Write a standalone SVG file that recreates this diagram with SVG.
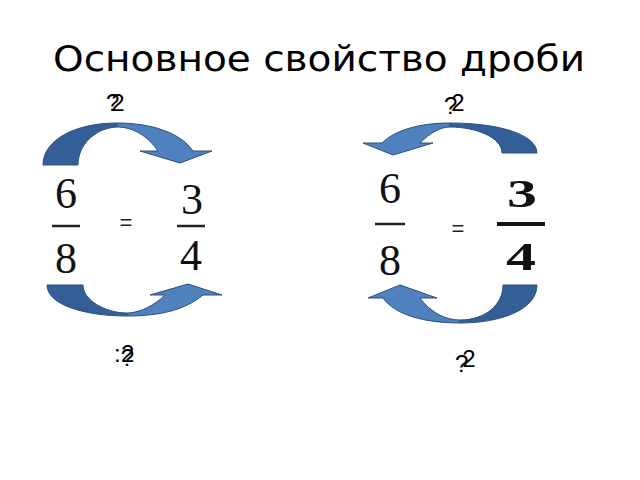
<svg xmlns="http://www.w3.org/2000/svg" width="640" height="480" viewBox="0 0 640 480">
<style>
.title{font-family:"DejaVu Sans","Liberation Sans",sans-serif;font-size:36px;fill:#000}
.num{font-family:"Liberation Serif","DejaVu Serif",serif;font-size:44px;fill:#111;text-anchor:middle}
.numb{font-family:"Liberation Serif","DejaVu Serif",serif;font-size:40px;font-weight:bold;fill:#111;text-anchor:middle}
.lbl{font-family:"Liberation Sans","DejaVu Sans",sans-serif;font-size:24px;fill:#000}
.eq{font-family:"Liberation Sans","DejaVu Sans",sans-serif;font-size:22px;fill:#222;text-anchor:middle}
.bar{stroke:#222;stroke-width:2.5}
.dark{fill:#335f96;stroke:#2c4f7e;stroke-width:1}
.light{fill:#4f81bf;stroke:#2c4f7e;stroke-width:1}
</style>
<rect width="640" height="480" fill="#fff"/>
<text class="title" x="53" y="71" textLength="532" lengthAdjust="spacingAndGlyphs">Основное свойство дроби</text>

<g id="connectors">
  <g id="arrow-top-left">
    <path class="dark" d="M43,165 C43,140 75,123 117,123 L117,127 C95,128 78,145 78,165 Z"/>
    <path class="light" d="M117,123 C150,123 180,132 193,151 L212,151 L180,163 L140,151 L158,151 C148,136 133,127 117,127 Z"/>
  </g>
  <g id="arrow-bottom-left">
    <path class="dark" d="M47,285 L83,285 C83,300 105,313 127,313 L127,316 C85,316 47,305 47,285 Z"/>
    <path class="light" d="M127,313 C140,313 155,305 165,295 L150,295 L188,284 L222,295 L203,295 C185,310 160,316 127,316 Z"/>
  </g>
  <g id="arrow-top-right">
    <path class="dark" d="M537,153 C537,135 500,123 450,123 L450,127 C475,127 502,137 502,153 Z"/>
    <path class="light" d="M450,123 C420,123 395,130 382,143 L363,143 L393,155 L433,143 L420,143 C430,133 440,127 450,127 Z"/>
  </g>
  <g id="arrow-bottom-right">
    <path class="dark" d="M503,285 L537,285 C537,310 500,323 460,323 L460,320 C485,320 503,305 503,285 Z"/>
    <path class="light" d="M460,323 C425,323 395,315 383,298 L368,298 L400,285 L437,298 L420,298 C430,312 445,320 460,320 Z"/>
  </g>
</g>

<g id="frac-left-1">
  <text class="num" x="66" y="208">6</text>
  <line class="bar" x1="52" y1="226" x2="80" y2="226"/>
  <text class="num" x="66" y="273">8</text>
</g>
<text class="eq" x="126" y="230">=</text>
<g id="frac-left-2">
  <text class="num" x="192" y="214">3</text>
  <line class="bar" x1="177" y1="226" x2="205" y2="226"/>
  <text class="num" x="191" y="270">4</text>
</g>

<g id="frac-right-1">
  <text class="num" x="390" y="203">6</text>
  <line class="bar" x1="375" y1="224" x2="405" y2="224"/>
  <text class="num" x="390" y="275">8</text>
</g>
<text class="eq" x="458" y="236">=</text>
<g id="frac-right-2">
  <text class="numb" transform="translate(522,207) scale(1.5,1)">3</text>
  <line x1="497" y1="224" x2="545" y2="224" stroke="#111" stroke-width="4"/>
  <text class="numb" transform="translate(521,270) scale(1.5,1)">4</text>
</g>

<text id="label-top-left" class="lbl" x="106" y="111">?<tspan dx="-8">2</tspan></text>
<text id="label-top-right" class="lbl" x="444" y="114">?<tspan dx="-6" dy="-3">2</tspan></text>
<text id="label-bottom-left" class="lbl" x="114" y="362">:<tspan dy="4">?</tspan><tspan dx="-13" dy="-4">2</tspan></text>
<text id="label-bottom-right" class="lbl" x="455" y="372">?<tspan dx="-6" dy="-5">2</tspan></text>
</svg>
